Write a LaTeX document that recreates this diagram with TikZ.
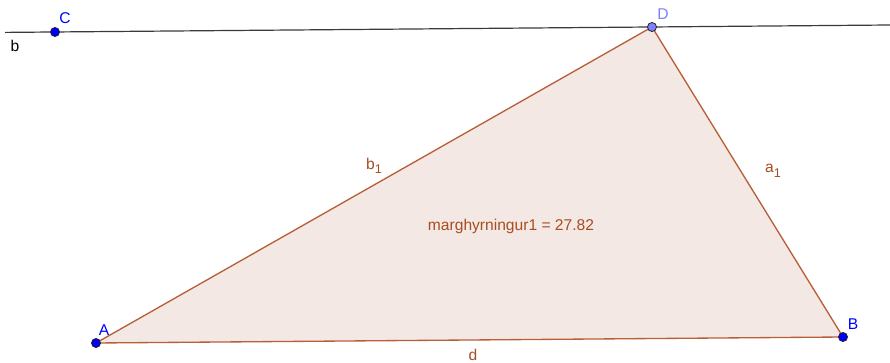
\documentclass[tikz,border=0pt]{standalone}
\usepackage{fontspec}
\setmainfont{Liberation Sans}
\definecolor{ggbrown}{HTML}{993300}
\definecolor{ggedge}{HTML}{B85F38}
\definecolor{ggtext}{HTML}{A84C22}
\definecolor{ggfill}{HTML}{F4E8E4}
\definecolor{ggblue}{HTML}{0000FF}
\definecolor{ggpale}{HTML}{7F7FFF}
\definecolor{ggline}{HTML}{3A3A3A}
\newcommand{\ggsub}[1]{\raisebox{-0.55ex}{\fontsize{9.5}{10}\selectfont #1}}

\begin{document}
\begin{tikzpicture}[
  x=0.75pt,
  y=-0.75pt,
  every node/.style={font=\fontsize{11.7}{14}\selectfont},
  point/.style={circle, draw=black!85, line width=0.6pt, fill=ggblue,
                inner sep=0pt, minimum size=6.8pt},
  freepoint/.style={point, fill=ggpale},
  ptlabel/.style={ggblue, inner sep=0pt},
  edge/.style={ggedge, line width=1pt},
  edgelabel/.style={ggtext, inner sep=0pt},
  lineb/.style={ggline, line width=0.9pt}
]
  % ---- frame of the view ----
  \useasboundingbox (0,0) rectangle (890,363);

  % ---- the four points ----
  \coordinate (A) at (96,343);
  \coordinate (B) at (843,337);
  \coordinate (C) at (55,32);
  \coordinate (D) at (652,27);

  % ---- line b through C and D ----
  \coordinate (bleft) at (5,32.4);
  \coordinate (bright) at (890,25);
  \draw[lineb] (bleft) -- (bright);
  \node[inner sep=0pt] (lb) at (15,46) {b};

  % ---- triangle ABD ----
  \fill[ggfill] (A) -- (B) -- (D) -- cycle;
  \draw[edge] (A) -- (B);
  \draw[edge] (B) -- (D);
  \draw[edge] (D) -- (A);

  % ---- edge labels and the area ----
  \node[edgelabel] (lb1) at (374,166) {b\ggsub{1}};
  \node[edgelabel] (la1) at (773,171) {a\ggsub{1}};
  \node[edgelabel] (ld) at (473,355) {d};
  \node[edgelabel] (larea) at (511,226) {marghyrningur1 = 27.82};

  % ---- points drawn on top ----
  \node[point] (pA) at (A) {};
  \node[point] (pB) at (B) {};
  \node[point] (pC) at (C) {};
  \node[freepoint] (pD) at (D) {};
  \node[ptlabel] (lA) at (104,330) {A};
  \node[ptlabel] (lB) at (853,324) {B};
  \node[ptlabel] (lC) at (65,18) {C};
  \node[ptlabel, ggpale] (lD) at (663,14) {D};
\end{tikzpicture}
\end{document}
